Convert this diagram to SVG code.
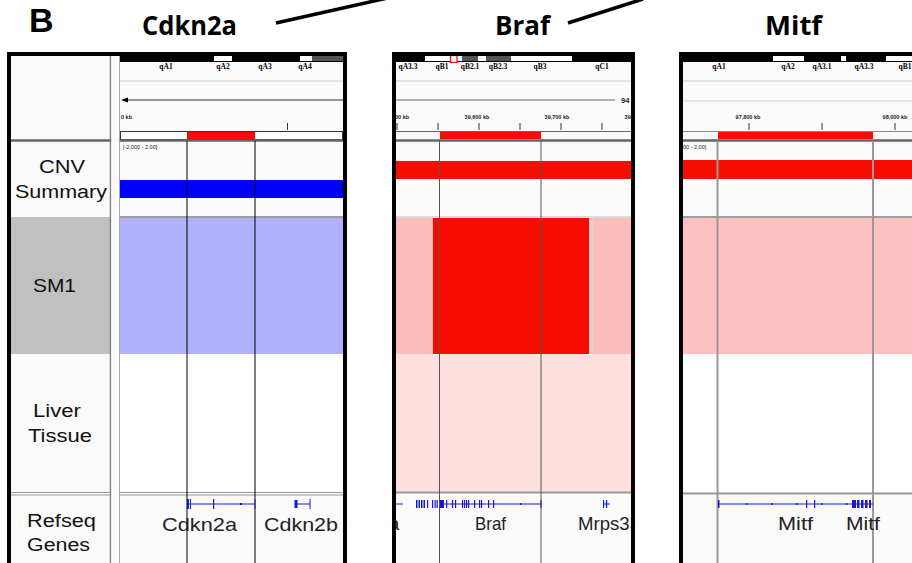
<svg xmlns="http://www.w3.org/2000/svg" width="912" height="563" viewBox="0 0 912 563">
<style>
.title{font-family:"Open Sans","Liberation Sans",sans-serif;font-weight:bold;font-size:27px;fill:#000}
.lab{font-family:"Liberation Sans",Arial,sans-serif;font-size:18px;fill:#111}
.gene{font-family:"Liberation Sans",Arial,sans-serif;font-size:18.5px;fill:#222}
.band{font-family:"Liberation Serif","Times New Roman",serif;font-weight:bold;font-size:7.5px;fill:#000}
.tiny{font-family:"Liberation Sans",Arial,sans-serif;font-weight:bold;font-size:5.5px;fill:#222}
.vl{stroke:#000;stroke-width:1}
.gl{stroke:#1a1acc;stroke-width:1;fill:none}
.ex{fill:#1a1acc}
.frame{fill:none;stroke:#000;stroke-width:4}
</style>
<defs>
<clipPath id="c1"><rect x="11" y="56" width="332" height="507"/></clipPath>
<clipPath id="c2"><rect x="396" y="56" width="235" height="507"/></clipPath>
<clipPath id="c3"><rect x="683" y="56" width="229" height="507"/></clipPath>
</defs>
<rect width="912" height="563" fill="#fff"/>

<text x="29" y="31.5" style="font-family:'Liberation Sans',Arial,sans-serif;font-weight:bold;font-size:34px">B</text>
<text class="title" x="142" y="35" textLength="95" lengthAdjust="spacingAndGlyphs">Cdkn2a</text>
<text class="title" x="495" y="35" textLength="55" lengthAdjust="spacingAndGlyphs">Braf</text>
<text class="title" x="765" y="35" textLength="57" lengthAdjust="spacingAndGlyphs">Mitf</text>

<g id="connectors" stroke="#000" stroke-width="3.5" stroke-linecap="butt">
<line x1="276" y1="23" x2="392" y2="-3"/>
<line x1="568" y1="23" x2="643" y2="-1"/>
</g>

<!-- Panel 1 -->
<g id="panel-cdkn2a">
<g clip-path="url(#c1)">
<rect x="11" y="56" width="332" height="507" fill="#fafafa"/>
<rect x="11" y="217" width="99" height="137" fill="#c0c0c0"/>
<rect x="120" y="55" width="223" height="7" fill="#000"/>
<rect x="214" y="56" width="18" height="5" fill="#fff"/>
<rect x="300" y="56" width="12" height="5" fill="#fff"/>
<rect x="312" y="56" width="31" height="5" fill="#555"/>
<text class="band" x="166" y="68.5" text-anchor="middle">qA1</text>
<text class="band" x="223" y="68.5" text-anchor="middle">qA2</text>
<text class="band" x="265" y="68.5" text-anchor="middle">qA3</text>
<text class="band" x="305" y="68.5" text-anchor="middle">qA4</text>
<line x1="120" y1="81" x2="343" y2="81" stroke="#ddd" stroke-width="1.5"/>
<line x1="124" y1="100" x2="343" y2="100" stroke="#333" stroke-width="1"/>
<polygon points="121,100 128,97.5 128,102.5" fill="#000"/>
<text class="tiny" x="121" y="119">0 kb</text>
<line x1="287.5" y1="123" x2="287.5" y2="130" stroke="#333"/>
<rect x="120.5" y="131.5" width="222" height="8" fill="#fff" stroke="#333" stroke-width="1"/>
<rect x="187" y="132" width="68" height="7" fill="#f80c00"/>
<line x1="11" y1="140.5" x2="343" y2="140.5" stroke="#666" stroke-width="2.5"/>
<text class="tiny" x="123" y="149" style="font-weight:normal">[-2.000 - 2.00]</text>
<rect x="120" y="180" width="223" height="18" fill="#0000ff"/>
<line x1="120" y1="217" x2="343" y2="217" stroke="#444" stroke-width="1"/>
<rect x="120" y="218" width="223" height="136" fill="#b0b0fc"/>
<rect x="120" y="354" width="223" height="138" fill="#fff"/>
<line x1="11" y1="492.5" x2="343" y2="492.5" stroke="#999" stroke-width="1.2"/>
<line x1="11" y1="495" x2="343" y2="495" stroke="#999" stroke-width="1"/>
<line x1="110.5" y1="56" x2="110.5" y2="563" stroke="#808080" stroke-width="1.5"/>
<rect x="111.3" y="56" width="7.5" height="507" fill="#fafafa"/>
<line x1="119.5" y1="56" x2="119.5" y2="563" stroke="#aaa" stroke-width="1"/>
<line class="vl" x1="187" y1="141" x2="187" y2="563"/>
<line class="vl" x1="255" y1="141" x2="255" y2="563"/>
<line class="gl" x1="187" y1="504" x2="255" y2="504"/>
<rect class="ex" x="187" y="499" width="2" height="10"/>
<rect class="ex" x="190" y="499" width="1" height="10"/>
<rect class="ex" x="213" y="499" width="1.2" height="10"/>
<rect class="ex" x="240" y="503" width="2" height="2"/>
<rect class="ex" x="254.5" y="499" width="1" height="10"/>
<line class="gl" x1="295" y1="504" x2="310" y2="504"/>
<rect class="ex" x="294.5" y="500" width="3" height="8"/>
<rect class="ex" x="309.5" y="499" width="1" height="10"/>
<text class="gene" x="162" y="531" textLength="75" lengthAdjust="spacingAndGlyphs">Cdkn2a</text>
<text class="gene" x="264" y="531" textLength="74" lengthAdjust="spacingAndGlyphs">Cdkn2b</text>
<text class="lab" x="39" y="173" textLength="46" lengthAdjust="spacingAndGlyphs">CNV</text>
<text class="lab" x="15" y="198" textLength="92" lengthAdjust="spacingAndGlyphs">Summary</text>
<text class="lab" x="33" y="292" textLength="43" lengthAdjust="spacingAndGlyphs">SM1</text>
<text class="lab" x="33" y="417" textLength="48" lengthAdjust="spacingAndGlyphs">Liver</text>
<text class="lab" x="28" y="442" textLength="64" lengthAdjust="spacingAndGlyphs">Tissue</text>
<text class="lab" x="27" y="527" textLength="69" lengthAdjust="spacingAndGlyphs">Refseq</text>
<text class="lab" x="27" y="551" textLength="63" lengthAdjust="spacingAndGlyphs">Genes</text>
</g>
<rect class="frame" x="9" y="54" width="336" height="520"/>
</g>

<!-- Panel 2 -->
<g id="panel-braf">
<g clip-path="url(#c2)">
<rect x="396" y="56" width="235" height="507" fill="#fafafa"/>
<rect x="396" y="55" width="235" height="7" fill="#000"/>
<rect x="425" y="56" width="147" height="5" fill="#fff"/>
<rect x="462" y="56" width="16" height="5" fill="#555"/>
<rect x="486" y="56" width="25" height="5" fill="#555"/>
<rect x="450.5" y="55.5" width="6.5" height="7" fill="#fff" stroke="#f00" stroke-width="1.2"/>
<text class="band" x="408" y="68.5" text-anchor="middle">qA3.3</text>
<text class="band" x="442" y="68.5" text-anchor="middle">qB1</text>
<text class="band" x="470" y="68.5" text-anchor="middle">qB2.1</text>
<text class="band" x="498" y="68.5" text-anchor="middle">qB2.3</text>
<text class="band" x="540" y="68.5" text-anchor="middle">qB3</text>
<text class="band" x="602" y="68.5" text-anchor="middle">qC1</text>
<line x1="396" y1="81" x2="631" y2="81" stroke="#ddd" stroke-width="1.5"/>
<line x1="396" y1="100" x2="615" y2="100" stroke="#999" stroke-width="1.5"/>
<text class="tiny" x="621" y="103" style="font-size:7.5px">94</text>
<text class="tiny" x="392" y="119">300 kb</text>
<text class="tiny" x="477" y="119" text-anchor="middle">39,600 kb</text>
<text class="tiny" x="557" y="119" text-anchor="middle">39,700 kb</text>
<text class="tiny" x="637" y="119" text-anchor="middle">39,800 kb</text>
<g stroke="#333" stroke-width="1">
<line x1="397" y1="123" x2="397" y2="130"/>
<line x1="438" y1="123" x2="438" y2="130"/>
<line x1="479" y1="123" x2="479" y2="130"/>
<line x1="520" y1="123" x2="520" y2="130"/>
<line x1="561" y1="123" x2="561" y2="130"/>
<line x1="602" y1="123" x2="602" y2="130"/>
</g>
<line x1="396" y1="131.5" x2="631" y2="131.5" stroke="#666" stroke-width="1"/>
<rect x="440" y="132" width="101" height="7" fill="#f80c00"/>
<line x1="396" y1="140.5" x2="631" y2="140.5" stroke="#666" stroke-width="2.5"/>
<rect x="396" y="161" width="235" height="18" fill="#f80c00"/>
<line x1="396" y1="217" x2="631" y2="217" stroke="#bbb" stroke-width="1"/>
<rect x="396" y="218" width="235" height="136" fill="#fdbcbc"/>
<rect x="589" y="218" width="4" height="136" fill="#e0d0d0"/>
<rect x="433" y="218" width="156" height="136" fill="#f80c00"/>
<rect x="396" y="354" width="235" height="138" fill="#fee0e0"/>
<line x1="396" y1="492.5" x2="631" y2="492.5" stroke="#999" stroke-width="2"/>
<line x1="439.5" y1="141" x2="439.5" y2="563" stroke="#555" stroke-width="1"/>
<line x1="541" y1="141" x2="541" y2="563" stroke="#555" stroke-width="1"/>
<line class="gl" x1="396" y1="504" x2="403" y2="504"/>
<rect class="ex" x="416" y="500" width="1.5" height="8"/>
<rect class="ex" x="418.5" y="500" width="1.5" height="8"/>
<rect class="ex" x="421" y="500" width="1.5" height="8"/>
<rect class="ex" x="423.5" y="500" width="1.5" height="8"/>
<rect class="ex" x="427" y="500" width="1.2" height="8"/>
<rect class="ex" x="432" y="500" width="1.2" height="8"/>
<rect class="ex" x="434.5" y="500" width="1.2" height="8"/>
<rect class="ex" x="436.5" y="500" width="1.2" height="8"/>
<line class="gl" x1="440" y1="504" x2="541" y2="504"/>
<rect class="ex" x="440" y="500" width="4" height="8"/>
<rect class="ex" x="446" y="500" width="1.2" height="8"/>
<rect class="ex" x="452" y="500" width="1.2" height="8"/>
<rect class="ex" x="455" y="500" width="1.2" height="8"/>
<rect class="ex" x="462" y="500" width="1.2" height="8"/>
<rect class="ex" x="464" y="500" width="1.2" height="8"/>
<rect class="ex" x="466" y="500" width="1.2" height="8"/>
<rect class="ex" x="468" y="500" width="1.2" height="8"/>
<rect class="ex" x="474" y="500" width="1.2" height="8"/>
<rect class="ex" x="479" y="500" width="1.2" height="8"/>
<rect class="ex" x="481" y="500" width="1.2" height="8"/>
<rect class="ex" x="488" y="500" width="1.2" height="8"/>
<rect class="ex" x="493" y="500" width="1.2" height="8"/>
<rect class="ex" x="520" y="503" width="1.5" height="2"/>
<rect class="ex" x="540.5" y="500" width="1" height="8"/>
<rect class="ex" x="603" y="500" width="1.2" height="8"/>
<rect class="ex" x="606" y="500" width="1.2" height="8"/>
<line class="gl" x1="603" y1="504" x2="610" y2="504"/>
<text class="gene" x="389" y="530">a</text>
<text class="gene" x="475" y="530" textLength="31" lengthAdjust="spacingAndGlyphs">Braf</text>
<text class="gene" x="578" y="530" textLength="62" lengthAdjust="spacingAndGlyphs">Mrps33</text>
</g>
<rect class="frame" x="394" y="54" width="239" height="520"/>
</g>

<!-- Panel 3 -->
<g id="panel-mitf">
<g clip-path="url(#c3)">
<rect x="683" y="56" width="229" height="507" fill="#fafafa"/>
<rect x="683" y="55" width="229" height="7" fill="#000"/>
<rect x="773" y="56" width="31" height="5" fill="#fff"/>
<rect x="841" y="56" width="5" height="5" fill="#fff"/>
<rect x="886" y="56" width="26" height="5" fill="#fff"/>
<text class="band" x="719" y="68.5" text-anchor="middle">qA1</text>
<text class="band" x="788" y="68.5" text-anchor="middle">qA2</text>
<text class="band" x="822" y="68.5" text-anchor="middle">qA3.1</text>
<text class="band" x="864" y="68.5" text-anchor="middle">qA3.3</text>
<text class="band" x="905" y="68.5" text-anchor="middle">qB1</text>
<line x1="683" y1="81" x2="912" y2="81" stroke="#ddd" stroke-width="1.5"/>
<line x1="683" y1="101" x2="912" y2="101" stroke="#ddd" stroke-width="1.5"/>
<text class="tiny" x="748" y="119" text-anchor="middle">97,800 kb</text>
<text class="tiny" x="895" y="119" text-anchor="middle">98,000 kb</text>
<g stroke="#333" stroke-width="1">
<line x1="749" y1="123" x2="749" y2="130"/>
<line x1="822" y1="123" x2="822" y2="130"/>
<line x1="895" y1="123" x2="895" y2="130"/>
</g>
<line x1="683" y1="131.5" x2="912" y2="131.5" stroke="#888" stroke-width="1"/>
<rect x="718" y="132" width="155" height="7" fill="#f80c00"/>
<line x1="683" y1="140.5" x2="912" y2="140.5" stroke="#666" stroke-width="2.5"/>
<text class="tiny" x="672" y="149" style="font-weight:normal">[-2.000 - 2.00]</text>
<rect x="683" y="160" width="229" height="19" fill="#f80c00"/>
<line x1="683" y1="217" x2="912" y2="217" stroke="#444" stroke-width="1"/>
<rect x="683" y="218" width="229" height="136" fill="#fdc0c0"/>
<rect x="683" y="354" width="229" height="138" fill="#fff"/>
<line x1="683" y1="493.5" x2="912" y2="493.5" stroke="#999" stroke-width="2"/>
<line x1="717.5" y1="141" x2="717.5" y2="563" stroke="#999" stroke-width="2"/>
<line x1="873" y1="141" x2="873" y2="563" stroke="#999" stroke-width="2"/>
<line class="gl" x1="718" y1="504" x2="873" y2="504"/>
<rect class="ex" x="718" y="500" width="1.5" height="8"/>
<rect class="ex" x="746" y="503" width="1.5" height="2"/>
<rect class="ex" x="771" y="503" width="1.5" height="2"/>
<rect class="ex" x="796" y="503" width="1.5" height="2"/>
<rect class="ex" x="806" y="500" width="1.2" height="8"/>
<rect class="ex" x="814" y="500" width="1.2" height="8"/>
<rect class="ex" x="821" y="503" width="1.5" height="2"/>
<rect class="ex" x="846" y="503" width="1.5" height="2"/>
<rect class="ex" x="852" y="500" width="4" height="8"/>
<rect class="ex" x="857" y="500" width="2.5" height="8"/>
<rect class="ex" x="861" y="500" width="2.5" height="8"/>
<rect class="ex" x="865" y="500" width="2.5" height="8"/>
<rect class="ex" x="869" y="500" width="2" height="8"/>
<text class="gene" x="778" y="530" textLength="35" lengthAdjust="spacingAndGlyphs">Mitf</text>
<text class="gene" x="846" y="530" textLength="34" lengthAdjust="spacingAndGlyphs">Mitf</text>
</g>
<rect class="frame" x="681" y="54" width="300" height="520"/>
</g>
</svg>
